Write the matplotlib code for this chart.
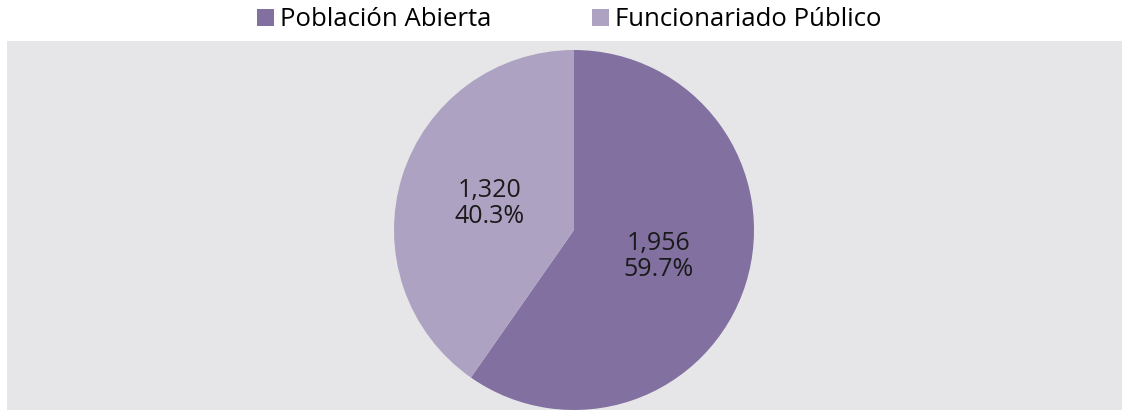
import matplotlib
matplotlib.use("Agg")
import matplotlib.pyplot as plt
from matplotlib.patches import Patch

categories = ["Población Abierta", "Funcionariado Público"]
values = [1956, 1320]
colors = ["#8170a0", "#aea2c3"]

plt.rcParams['font.family'] = ['Open Sans', 'DejaVu Sans']

W, H = 1128, 412
fig = plt.figure(figsize=(W/100, H/100), dpi=100)
fig.patch.set_facecolor("white")

# gray panel
bg = fig.add_axes([7/W, 2/H, (1122-7)/W, (410-41)/H])
bg.set_facecolor("#e6e6e8")
bg.set_xticks([]); bg.set_yticks([])
for s in bg.spines.values():
    s.set_visible(False)

cx, cy, r = 574, 412-230, 180
ax = fig.add_axes([(cx-r)/W, (cy-r)/H, 2*r/W, 2*r/H])
ax.set_axis_off()
total = sum(values)

def fmt(p):
    v = round(p*total/100)
    return f"{v:,}\n{p:.1f}%"

wedges, texts = ax.pie(values, colors=colors, startangle=90, counterclock=False,
                       radius=1, labels=[fmt(v/total*100) for v in values],
                       labeldistance=0.49,
                       textprops=dict(fontsize=18, color="#1a1a1a", ha="center", va="center",
                                      linespacing=1.1))
ax.set_xlim(-1, 1)
ax.set_ylim(-1, 1)
ax.set_aspect("auto")

handles = [Patch(facecolor=c, edgecolor="none") for c in colors]
fig.legend(handles, categories, loc="center", bbox_to_anchor=(569.5/W, 1-20/H), ncol=2,
           frameon=False, fontsize=18.5, handlelength=0.66, handleheight=0.66,
           handletextpad=0.25, columnspacing=3.9, borderaxespad=0, borderpad=0)

fig.savefig("out.png", dpi=100)
